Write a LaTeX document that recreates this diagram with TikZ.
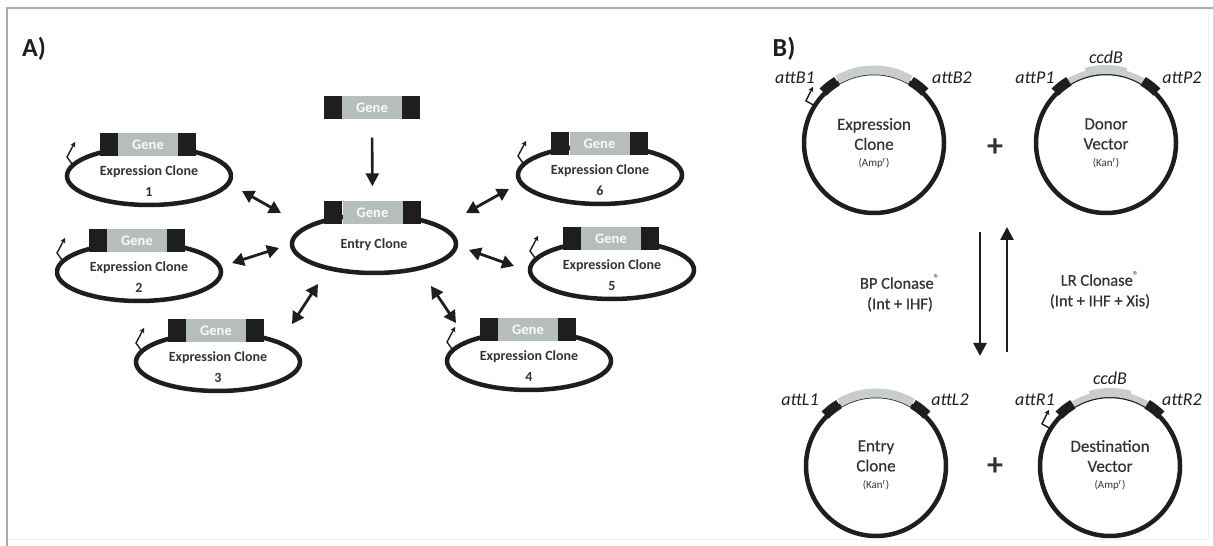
\documentclass[tikz,border=0pt]{standalone}
\usepackage{fontspec}
\setmainfont{Carlito}
\newfontfamily\medfont[FakeBold=0.5]{Carlito}
\usetikzlibrary{arrows.meta,shapes.geometric}
\definecolor{ink}{HTML}{1E1E1E}
\definecolor{txt}{HTML}{333333}
\definecolor{genegray}{HTML}{B5BDBD}
\definecolor{arcgray}{HTML}{C9CDCC}
\newcommand\GeneCass[3]{%
  \node[genebox] (#1) at (#2,#3) {Gene};
  \node[blkbox, anchor=east] (#1L) at (#1.west) {};
  \node[blkbox, anchor=west] (#1R) at (#1.east) {};
}
\newcommand\regmark{\textsuperscript{\normalfont ®}}
\begin{document}
\begin{tikzpicture}[x=1pt,y=1pt,
  genebox/.style={fill=genegray, minimum width=60pt, minimum height=23pt, inner sep=0pt,
    text=white!92!genegray, font=\bfseries\fontsize{14.5}{14.5}\selectfont},
  blkbox/.style={fill=ink, minimum width=18pt, minimum height=23pt, inner sep=0pt},
  plas/.style={ellipse, draw=ink, line width=4.5pt, minimum width=164pt, minimum height=58pt, inner sep=0pt},
  ectext/.style={text=txt, align=center, font=\bfseries\fontsize{14}{21}\selectfont},
  dbl/.style={{Triangle[length=12pt,width=13pt]}-{Triangle[length=12pt,width=13pt]}, line width=2.8pt, draw=ink},
  arr/.style={-{Triangle[length=13pt,width=13pt]}, line width=2.6pt, draw=ink},
  prom/.style={-{Stealth[length=5pt,width=5.5pt]}, line width=1.4pt, draw=ink},
  circ/.style={circle, draw=ink, line width=4.5pt, minimum size=140pt, inner sep=0pt},
  grayarc/.style={draw=arcgray, line width=9pt},
  blkarc/.style={draw=ink, line width=10pt},
  ctext/.style={text=txt, align=center, font=\medfont\fontsize{17}{20}\selectfont},
  small/.style={text=txt, font=\fontsize{11}{11}\selectfont},
  att/.style={text=ink, font=\itshape\fontsize{18}{18}\selectfont},
  panel/.style={text=ink, font=\bfseries\fontsize{26}{26}\selectfont},
  plus/.style={text=txt, font=\bfseries\fontsize{32}{32}\selectfont},
  enz/.style={text=txt, align=center, font=\medfont\fontsize{16.5}{20.5}\selectfont}
]
\useasboundingbox (0,0) rectangle (1213,546);
% frame
\draw[gray!12, line width=1pt] (7,6) -- (1208,6) -- (1208,538);
\draw[gray!65, line width=1.6pt] (7,0) -- (7,538) -- (1213,538);

% ---------------- Panel A ----------------
\node[panel] (labA) at (34,497) {A)};

% ellipses
\node[plas] (entry) at (374,302) {};
\node[plas] (ec1) at (149,370) {};
\node[plas] (ec2) at (139,274) {};
\node[plas] (ec3) at (218,184) {};
\node[plas] (ec4) at (529,185) {};
\node[plas] (ec5) at (612,276) {};
\node[plas] (ec6) at (600,371) {};

% cassettes
\GeneCass{gtop}{372}{438}
\GeneCass{gent}{372.5}{333}
\GeneCass{g1}{148}{401}
\GeneCass{g2}{137}{305}
\GeneCass{g3}{216}{215}
\GeneCass{g4}{528}{216}
\GeneCass{g5}{611}{307}
\GeneCass{g6}{599.5}{402}

% texts
\node[ectext] (entryt) at (374,301) {Entry Clone};
\node[ectext] (ec1t) at ([yshift=-5.5pt]ec1.center) {Expression Clone\\1};
\node[ectext] (ec2t) at ([yshift=-5.5pt]ec2.center) {Expression Clone\\2};
\node[ectext] (ec3t) at ([yshift=-5.5pt]ec3.center) {Expression Clone\\3};
\node[ectext] (ec4t) at ([yshift=-5.5pt]ec4.center) {Expression Clone\\4};
\node[ectext] (ec5t) at ([yshift=-5.5pt]ec5.center) {Expression Clone\\5};
\node[ectext] (ec6t) at ([yshift=-5.5pt]ec6.center) {Expression Clone\\6};

% promoters
\foreach \e in {ec1,ec2,ec3,ec4,ec5,ec6}{
  \draw[prom] ([shift={(-77,12)}]\e.center) -- ++(-5,7) -- ++(8,15);
}

% arrows
\draw[arr, shorten <=18pt, shorten >=15pt] (gtop.south) -- (gent.north);
\coordinate (a1s) at (242,355); \coordinate (a1e) at (281,333);
\coordinate (a2s) at (232,283); \coordinate (a2e) at (279,298);
\coordinate (a3s) at (292,222); \coordinate (a3e) at (318,262);
\coordinate (a4s) at (456,223); \coordinate (a4e) at (431,260);
\coordinate (a5s) at (514,280); \coordinate (a5e) at (469,296);
\coordinate (a6s) at (509,357); \coordinate (a6e) at (466,333);
\foreach \i in {1,...,6}{ \draw[dbl] (a\i s) -- (a\i e); }

% ---------------- Panel B ----------------
\node[panel] (labB) at (784,497) {B)};

\node[circ] (c1) at (874,403) {};
\node[circ] (c2) at (1106,403) {};
\node[circ] (c3) at (876,80) {};
\node[circ] (c4) at (1110,80) {};

% gray arcs
\draw[grayarc] (c1.center) ++(60:73pt) arc[start angle=60, end angle=120, radius=73pt];
\draw[grayarc] (c3.center) ++(60:73pt) arc[start angle=60, end angle=120, radius=73pt];
\draw[grayarc, line width=6pt] (c2.center) ++(58:72pt) arc[start angle=58, end angle=122, radius=72pt];
\draw[grayarc, line width=8pt] (c2.center) ++(74:74pt) arc[start angle=74, end angle=106, radius=74pt];
\draw[grayarc, line width=6pt] (c4.center) ++(58:72pt) arc[start angle=58, end angle=122, radius=72pt];
\draw[grayarc, line width=8pt] (c4.center) ++(74:74pt) arc[start angle=74, end angle=106, radius=74pt];
% black att blocks
\foreach \c in {c1,c2,c3,c4}{
  \draw[blkarc] (\c.center) ++(45:72pt) arc[start angle=45, end angle=59, radius=72pt];
  \draw[blkarc] (\c.center) ++(121:72pt) arc[start angle=121, end angle=135, radius=72pt];
}
% promoters
\draw[prom] (c1.center) ++(148:72pt) -- ++(-7,4) -- ++(7,14);
\draw[prom] (c4.center) ++(148:72pt) -- ++(-7,4) -- ++(7,14);

% circle texts
\node[ctext] (c1t) at ([yshift=9pt]c1.center) {Expression\\Clone};
\node[small] (c1s) at ([yshift=-20pt]c1.center) {(Amp\textsuperscript{r})};
\node[ctext] (c2t) at ([yshift=9pt]c2.center) {Donor\\Vector};
\node[small] (c2s) at ([yshift=-20pt]c2.center) {(Kan\textsuperscript{r})};
\node[ctext] (c3t) at ([yshift=10pt]c3.center) {Entry\\Clone};
\node[small] (c3s) at ([yshift=-19pt]c3.center) {(Kan\textsuperscript{r})};
\node[ctext] (c4t) at ([yshift=10pt]c4.center) {Destination\\Vector};
\node[small] (c4s) at ([yshift=-19pt]c4.center) {(Amp\textsuperscript{r})};

% att labels
\node[att] (l1) at (795,468) {attB1};
\node[att] (l2) at (952,468) {attB2};
\node[att] (l3) at (1035,468) {attP1};
\node[att] (l4) at (1182,468) {attP2};
\node[att] (l5) at (1106,489) {ccdB};
\node[att] (l6) at (800,146) {attL1};
\node[att] (l7) at (950,146) {attL2};
\node[att] (l8) at (1035,146) {attR1};
\node[att] (l9) at (1182,146) {attR2};
\node[att] (l10) at (1110,168) {ccdB};

% plus signs
\node[plus] (p1) at (995,398) {+};
\node[plus] (p2) at (995,79) {+};

% reaction arrows
\coordinate (bps) at (980,314); \coordinate (bpe) at (980,190);
\coordinate (lrs) at (1007,194); \coordinate (lre) at (1007,319);
\draw[arr] (bps) -- (bpe);
\draw[arr] (lrs) -- (lre);
\node[enz] (bp) at (900,253) {BP Clonase\regmark\\(Int + IHF)};
\node[enz] (lr) at (1100,256) {LR Clonase\regmark\\(Int + IHF + Xis)};
\end{tikzpicture}
\end{document}
